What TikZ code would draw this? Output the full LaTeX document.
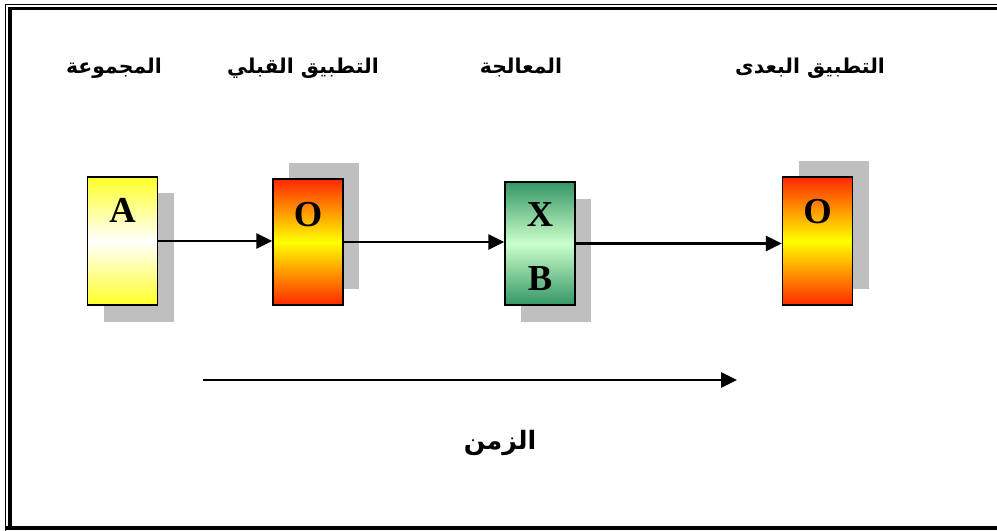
\documentclass[tikz,border=0pt]{standalone}
\usepackage{fontspec}
\setmainfont{Liberation Serif}
\newfontfamily\arabicfont[Script=Arabic]{DejaVu Sans}
\TeXXeTstate=1
\usetikzlibrary{arrows.meta,positioning}
\definecolor{seaGreen}{RGB}{51,150,100}
\definecolor{paleGreen}{RGB}{204,255,204}
\definecolor{hotRed}{RGB}{255,40,0}
\definecolor{sunYellow}{RGB}{255,255,40}

\begin{document}
\begin{tikzpicture}[
  x=0.025cm, y=-0.025cm,
  box/.style={draw=black, line width=1pt, minimum width=1.75cm, inner sep=0pt},
  ybox/.style={box, top color=sunYellow, bottom color=sunYellow, middle color=white},
  rbox/.style={box, top color=hotRed, bottom color=hotRed, middle color=yellow},
  gbox/.style={box, top color=seaGreen, bottom color=seaGreen, middle color=paleGreen},
  shade/.style={fill=black!25},
  letter/.style={inner sep=0pt, font=\bfseries\fontsize{26}{28}\selectfont},
  head/.style={font=\arabicfont\bfseries\fontsize{14.5}{16}\selectfont},
  link/.style={draw=black, line width=1.6pt, -{Triangle[length=0.4cm,width=0.38cm]}}
]
\useasboundingbox (0,0) rectangle (997,531);
% frame
\draw[line width=0.7pt] (5,531) -- (5,4) -- (997,4);
\draw[line width=2.2pt] (10,528) -- (10,8.5) -- (997,8.5);
\draw[line width=2.2pt] (5,528) -- (997,528);
% shadows
\fill[shade] (104,193) rectangle (174,322);
\fill[shade] (289,163) rectangle (359,289);
\fill[shade] (521,199) rectangle (591,322);
\fill[shade] (799,161) rectangle (869,289);
% boxes
\node[ybox, minimum height=3.2cm] (grp) at (122.5,241) {};
\node[rbox, minimum height=3.15cm] (pre) at (308,242) {};
\node[gbox, minimum height=3.075cm] (trt) at (540,243.5) {};
\node[rbox, minimum height=3.2cm] (post) at (817.5,241) {};
\node[letter, below=0.55cm of grp.north] (la) {A};
\node[letter, below=0.6cm of pre.north] (lo1) {O};
\node[letter, below=0.52cm of trt.north] (lx) {X};
\node[letter, below=2.12cm of trt.north] (lb) {B};
\node[letter, below=0.58cm of post.north] (lo2) {O};
% headings
\node[head] (hgrp) at (114,68) {\beginR المجموعة\endR};
\node[head] (hpre) at (303,68) {\beginR التطبيق القبلي\endR};
\node[head] (htrt) at (521,68) {\beginR المعالجة\endR};
\node[head] (hpost) at (810,68) {\beginR التطبيق البعدى\endR};
% links
\draw[link] (grp.east) -- (grp.east -| pre.west);
\draw[link] (pre.east) -- (pre.east -| trt.west);
\draw[link] (trt.east) -- (trt.east -| post.west);
% time
\coordinate (t0) at (203,380);
\coordinate (t1) at (737,380);
\draw[link] (t0) -- (t1);
\node[head, font=\arabicfont\bfseries\fontsize{18}{20}\selectfont] (time) at (500,443) {\beginR الزمن\endR};
\end{tikzpicture}
\end{document}
